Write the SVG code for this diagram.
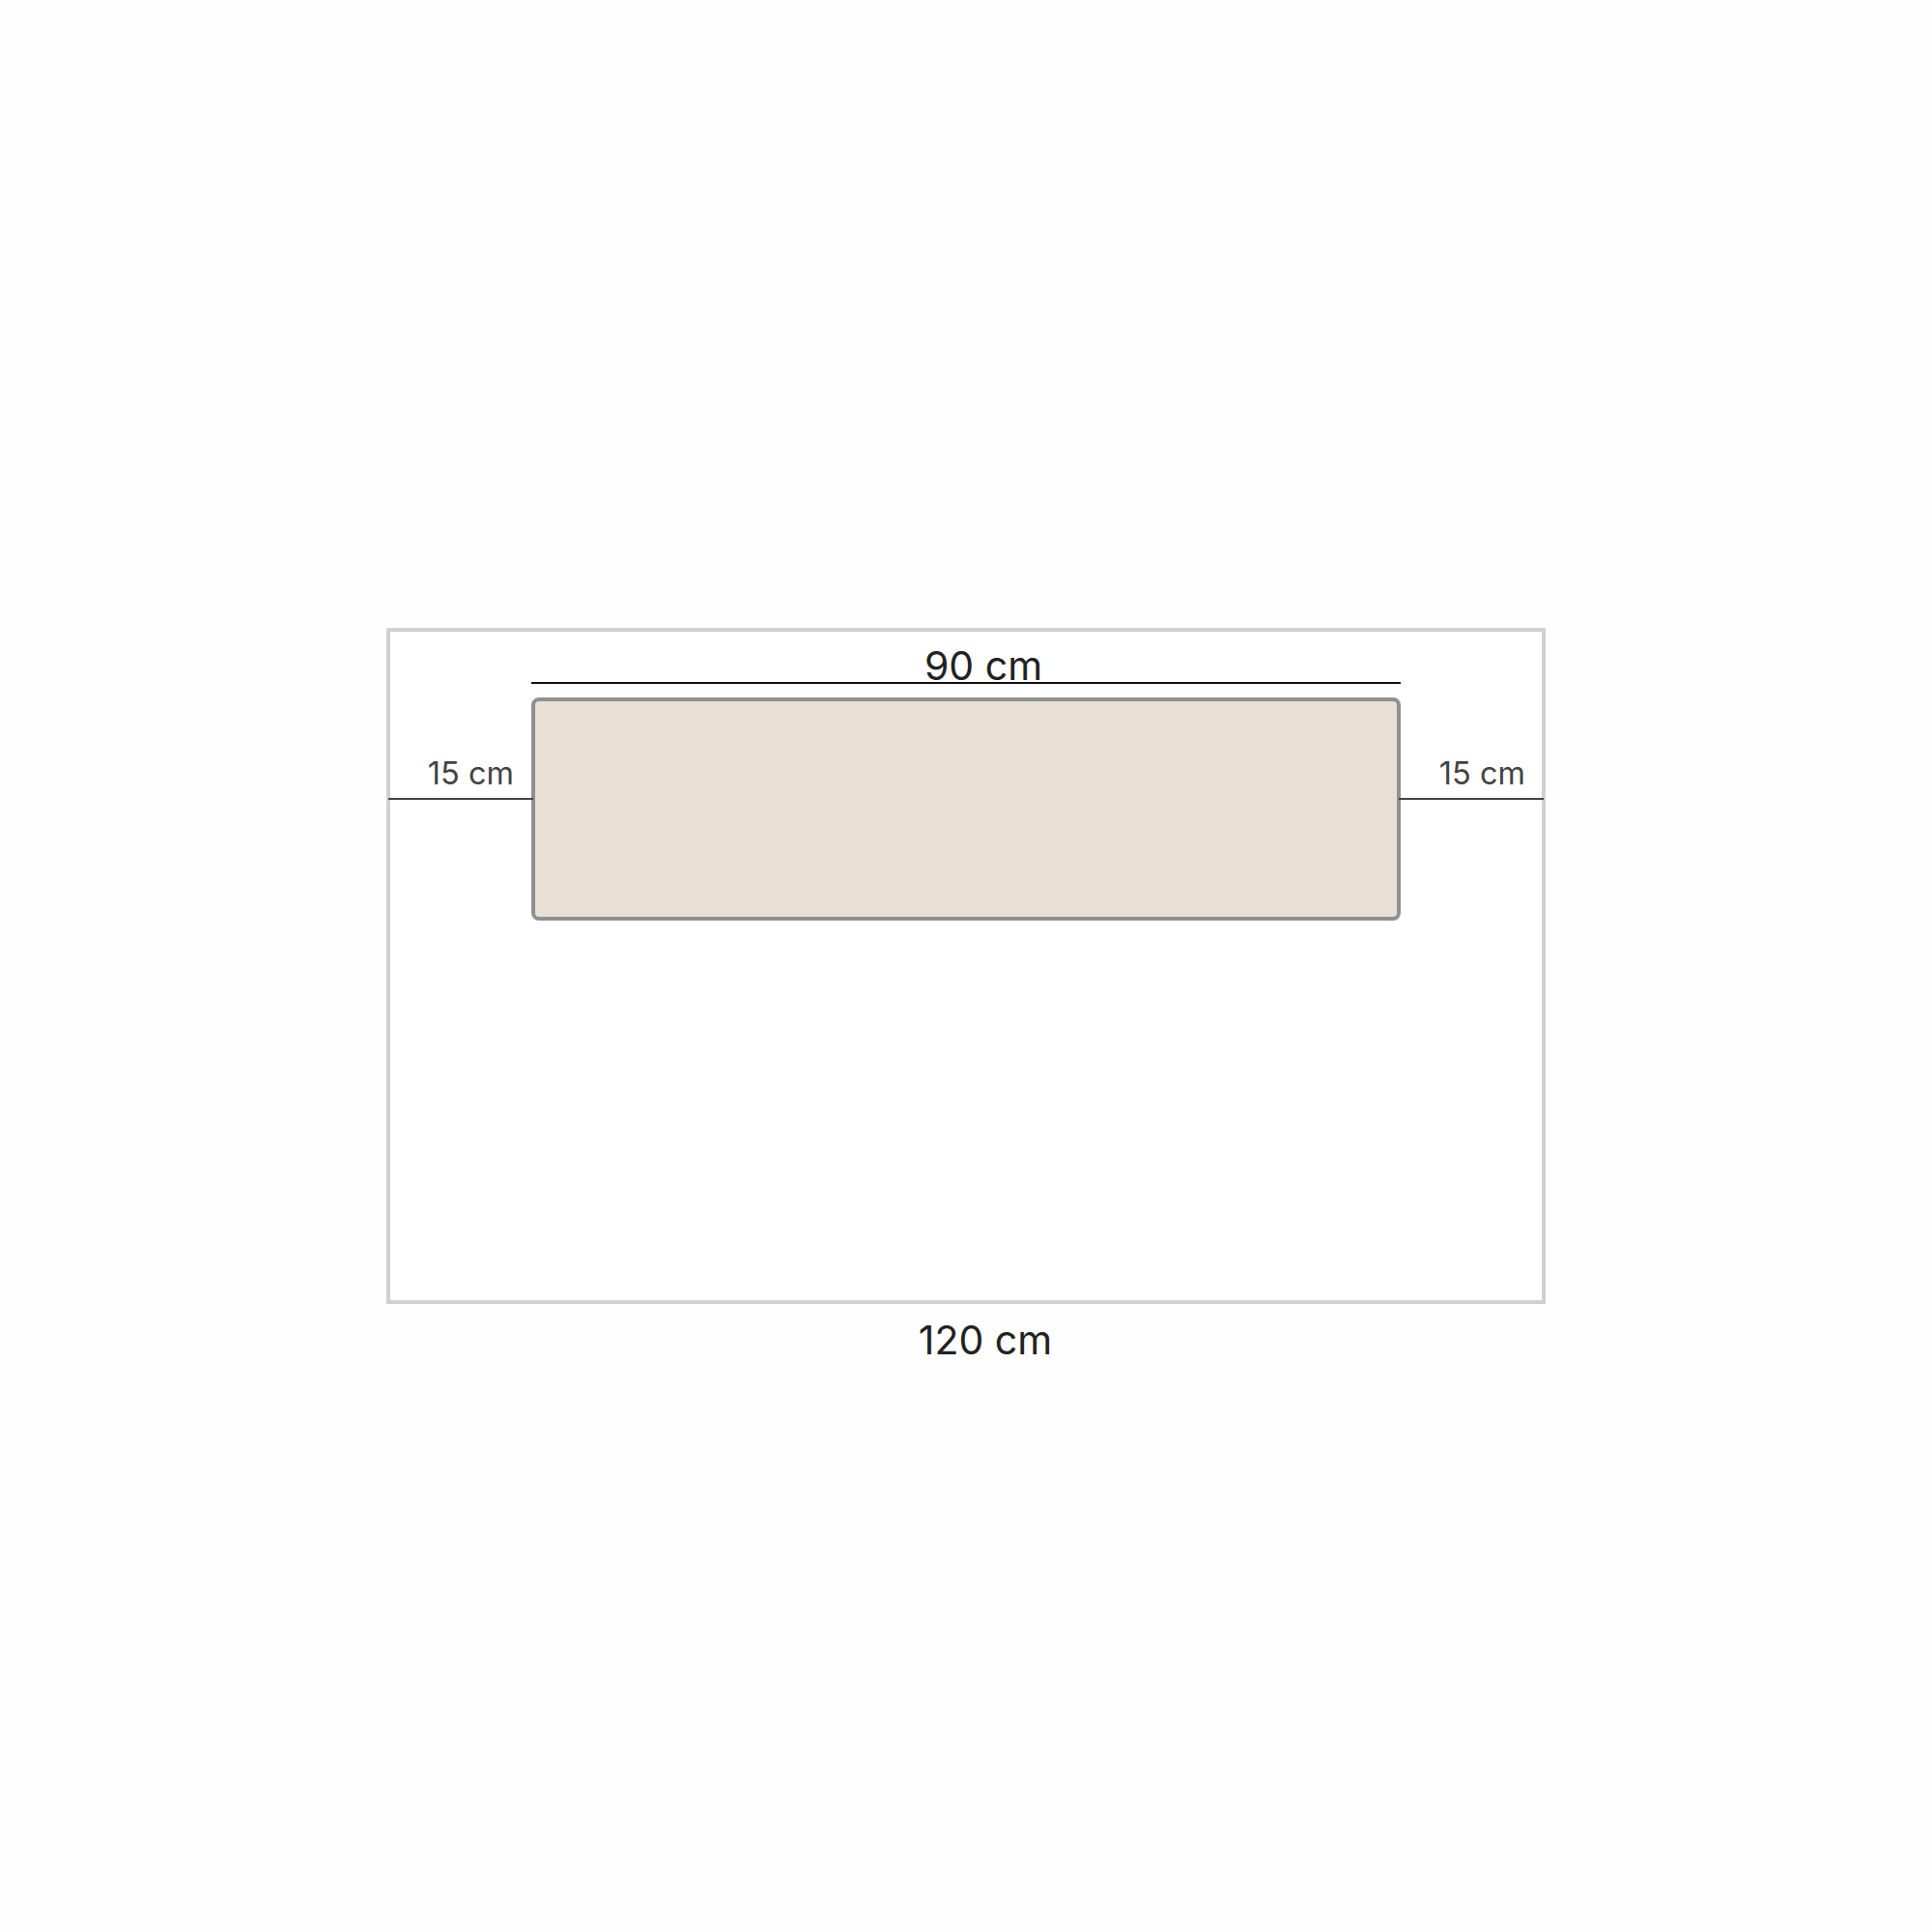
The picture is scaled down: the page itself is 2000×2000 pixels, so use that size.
<svg xmlns="http://www.w3.org/2000/svg" width="2000" height="2000" viewBox="0 0 2000 2000">
<style>
.lbl{font-family:Inter,"Liberation Sans",sans-serif;}
.big{font-size:41px;fill:#222;}
.small{font-size:32.5px;fill:#444;}
</style>
<rect x="0" y="0" width="2000" height="2000" fill="#fefefe"/>
<g id="frame">
<rect x="402" y="652" width="1196" height="696" fill="#ffffff" stroke="#d0d0d0" stroke-width="4"/>
</g>
<g id="mat">
<rect x="552" y="724" width="896" height="227" rx="6" ry="6" fill="#e8e0d4" stroke="#909090" stroke-width="4"/>
</g>
<g id="connectors">
<line x1="550" y1="707" x2="1450" y2="707" stroke="#111" stroke-width="2"/>
<line x1="402" y1="827" x2="552" y2="827" stroke="#444" stroke-width="2"/>
<line x1="1448" y1="827" x2="1598" y2="827" stroke="#444" stroke-width="2"/>
</g>
<g id="labels">
<text class="lbl big" x="1018" y="704" text-anchor="middle">90 cm</text>
<text class="lbl big" x="1020" y="1402" text-anchor="middle">120 cm</text>
<text class="lbl small" x="532" y="812" text-anchor="end">15 cm</text>
<text class="lbl small" x="1579" y="812" text-anchor="end">15 cm</text>
</g>
</svg>
